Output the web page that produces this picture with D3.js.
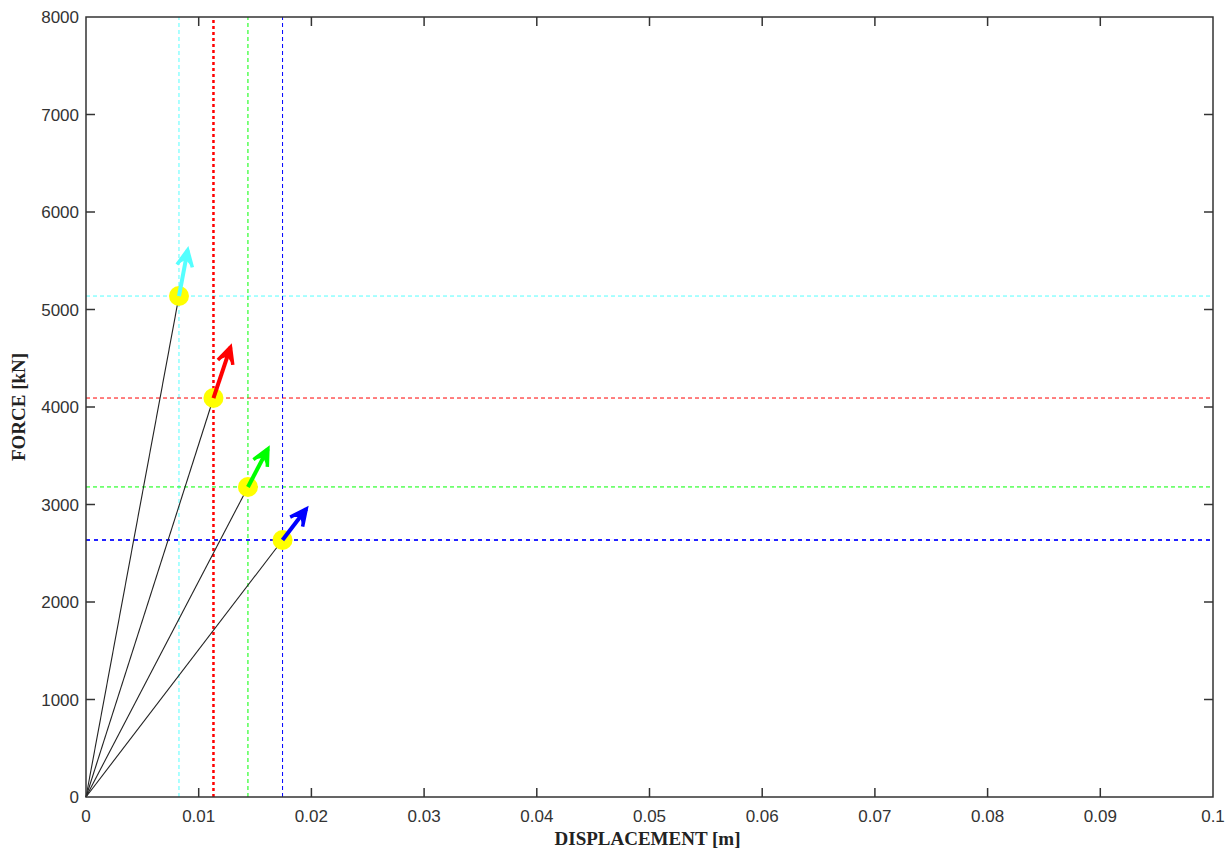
<!DOCTYPE html>
<html>
<head>
<meta charset="utf-8">
<script src="https://cdn.jsdelivr.net/npm/d3@7"></script>
<style>
  body { margin: 0; background: #fff; }
  svg { display: block; }
</style>
</head>
<body>
<div id="chart"></div>
<script>
// yield points of the four cases (displacement in m, force in kN)
const caseNames = ['cyan', 'red', 'green', 'blue'];
const caseColors = ['#5ff', '#f00', '#0f0', '#00f'];
const dispValues = [0.00825, 0.01131, 0.01437, 0.01744];
const forceValues = [5138, 4092, 3180, 2636];
// arrow components (data units)
const arrowDx = [0.00077, 0.00151, 0.00177, 0.0021];
const arrowDy = [472, 523, 390, 318];

const xTicks = [0, 0.01, 0.02, 0.03, 0.04, 0.05, 0.06, 0.07, 0.08, 0.09, 0.1];
const yTicks = [0, 1000, 2000, 3000, 4000, 5000, 6000, 7000, 8000];

const width = 1232, height = 850;
const margin = { left: 86, right: 19, top: 17, bottom: 53 };

const svg = d3.select('#chart').append('svg')
  .attr('width', width)
  .attr('height', height);

const x = d3.scaleLinear().domain([0, 0.1]).range([margin.left, width - margin.right]);
const y = d3.scaleLinear().domain([0, 8000]).range([height - margin.bottom, margin.top]);

const g = svg.append('g');

// dashed guide lines
caseNames.forEach((name, i) => {
  const thickV = name === 'red';
  const thickH = name === 'blue';
  g.append('line')
    .attr('x1', x(dispValues[i])).attr('x2', x(dispValues[i]))
    .attr('y1', y(0)).attr('y2', y(8000))
    .style('stroke', caseColors[i])
    .style('stroke-width', thickV ? 2.5 : 1)
    .style('stroke-dasharray', thickV ? '3,3' : '4,3');
  g.append('line')
    .attr('x1', x(0)).attr('x2', x(0.1))
    .attr('y1', y(forceValues[i])).attr('y2', y(forceValues[i]))
    .style('stroke', thickH ? '#22f' : caseColors[i])
    .style('stroke-width', thickH ? 2 : 1)
    .style('stroke-dasharray', thickH ? '4,4' : '4,3');
});

// lines from origin
caseNames.forEach((name, i) => {
  g.append('line')
    .attr('x1', x(0)).attr('y1', y(0))
    .attr('x2', x(dispValues[i])).attr('y2', y(forceValues[i]))
    .style('stroke', '#222')
    .style('stroke-width', 1.1);
});

// yellow markers
g.selectAll('.pt')
  .data(dispValues)
  .enter().append('circle')
  .attr('class', 'pt')
  .attr('cx', d => x(d))
  .attr('cy', (d, i) => y(forceValues[i]))
  .attr('r', 10)
  .style('fill', '#ff0');

// arrows
caseNames.forEach((name, i) => {
  const x0 = x(dispValues[i]), y0 = y(forceValues[i]);
  const x1 = x(dispValues[i] + arrowDx[i]), y1 = y(forceValues[i] + arrowDy[i]);
  const ang = Math.atan2(y1 - y0, x1 - x0);
  const head = 18, spread = 0.45;
  const hx1 = x1 - head * Math.cos(ang - spread), hy1 = y1 - head * Math.sin(ang - spread);
  const hx2 = x1 - head * Math.cos(ang + spread), hy2 = y1 - head * Math.sin(ang + spread);
  g.append('line')
    .attr('x1', x0).attr('y1', y0).attr('x2', x1).attr('y2', y1)
    .style('stroke', caseColors[i]).style('stroke-width', 4);
  g.append('path')
    .attr('d', `M${hx1},${hy1}L${x1},${y1}L${hx2},${hy2}`)
    .style('fill', 'none')
    .style('stroke', caseColors[i])
    .style('stroke-width', 3.5)
    .style('stroke-linejoin', 'miter');
  g.append('path')
    .attr('d', `M${hx1},${hy1}L${x1},${y1}L${hx2},${hy2}L${x1 - 10 * Math.cos(ang)},${y1 - 10 * Math.sin(ang)}Z`)
    .style('fill', caseColors[i]);
});

// axes box
const frame = svg.append('g').style('stroke', '#333').style('stroke-width', 1.5).style('fill', 'none');
frame.append('rect')
  .attr('x', x(0)).attr('y', y(8000))
  .attr('width', x(0.1) - x(0)).attr('height', y(0) - y(8000));

// ticks (inward, on all four sides)
const tickLen = 9;
xTicks.slice(1, -1).forEach(t => {
  frame.append('line').attr('x1', x(t)).attr('x2', x(t)).attr('y1', y(0)).attr('y2', y(0) - tickLen);
  frame.append('line').attr('x1', x(t)).attr('x2', x(t)).attr('y1', y(8000)).attr('y2', y(8000) + tickLen);
});
yTicks.slice(1, -1).forEach(t => {
  frame.append('line').attr('x1', x(0)).attr('x2', x(0) + tickLen).attr('y1', y(t)).attr('y2', y(t));
  frame.append('line').attr('x1', x(0.1)).attr('x2', x(0.1) - tickLen).attr('y1', y(t)).attr('y2', y(t));
});

// tick labels
const labelStyle = sel => sel
  .style('font-family', '"Liberation Sans", Arial, sans-serif')
  .style('font-size', '17px')
  .style('fill', '#333');

svg.selectAll('.xl')
  .data(xTicks)
  .enter().append('text')
  .attr('class', 'xl')
  .attr('x', d => x(d))
  .attr('y', y(0) + 25)
  .attr('text-anchor', 'middle')
  .text(d => d === 0 ? '0' : d === 0.1 ? '0.1' : d.toFixed(2))
  .call(labelStyle);

svg.selectAll('.yl')
  .data(yTicks)
  .enter().append('text')
  .attr('class', 'yl')
  .attr('x', x(0) - 7)
  .attr('y', d => y(d) + 6)
  .attr('text-anchor', 'end')
  .text(d => d)
  .call(labelStyle);

// axis titles
svg.append('text')
  .attr('x', (x(0) + x(0.1)) / 2 - 2)
  .attr('y', 845)
  .attr('text-anchor', 'middle')
  .style('font-family', '"Liberation Serif", "Times New Roman", serif')
  .style('font-weight', 'bold')
  .style('font-size', '19px')
  .style('fill', '#222')
  .text('DISPLACEMENT [m]');

svg.append('text')
  .attr('transform', `translate(25,${(y(0) + y(8000)) / 2}) rotate(-90)`)
  .attr('text-anchor', 'middle')
  .style('font-family', '"Liberation Serif", "Times New Roman", serif')
  .style('font-weight', 'bold')
  .style('font-size', '19px')
  .style('fill', '#222')
  .text('FORCE [kN]');
</script>
</body>
</html>
